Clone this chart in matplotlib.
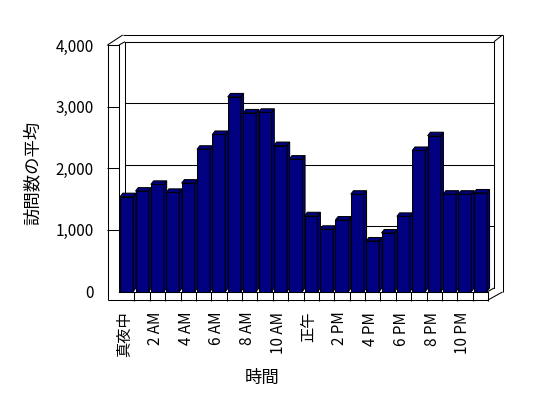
import matplotlib
matplotlib.use('Agg')
import matplotlib.pyplot as plt
from matplotlib.patches import Polygon
from matplotlib.transforms import offset_copy, ScaledTranslation

plt.rcParams['font.family'] = ['Noto Sans CJK JP', 'DejaVu Sans']

# data
hours = ['真夜中', '1 AM', '2 AM', '3 AM', '4 AM', '5 AM', '6 AM', '7 AM',
         '8 AM', '9 AM', '10 AM', '11 AM', '正午', '1 PM', '2 PM', '3 PM',
         '4 PM', '5 PM', '6 PM', '7 PM', '8 PM', '9 PM', '10 PM', '11 PM']
visits = [1540, 1630, 1740, 1610, 1760, 2310, 2550, 3160, 2900, 2910, 2370, 2150,
          1230, 1010, 1160, 1580, 820, 950, 1220, 2290, 2530, 1580, 1580, 1600]
y_ticks = [0, 1000, 2000, 3000, 4000]
y_tick_labels = ['0', '1,000', '2,000', '3,000', '4,000']

navy = '#000080'
W, H = 548, 398
fig = plt.figure(figsize=(W / 100, H / 100), dpi=100)

# pixel layer for the 3d box frame
fr = fig.add_axes([0, 0, 1, 1], zorder=0)
fr.set_xlim(0, W)
fr.set_ylim(H, 0)
fr.axis('off')

# front plane of the plot
x0, x1, y0, y1 = 119, 488, 291.5, 45.2
ax = fig.add_axes([x0 / W, 1 - y0 / H, (x1 - x0) / W, (y0 - y1) / H], zorder=1)
ax.patch.set_visible(False)
ax.set_xlim(-0.5, 23.5)
ax.set_ylim(0, 4000)

lw = 0.75
# frame lines (walls and floor)
frame = [
    ([107.5, 107.5], [45, 300]),
    ([107.5, 119], [45, 45]),
    ([107.5, 488], [300, 300]),
    ([107.5, 122.7], [45, 35]),
    ([119, 125], [45, 41.7]),
    ([122.7, 502.5], [35, 35]),
    ([494, 502.5], [41.7, 35]),
    ([502.5, 502.5], [35, 292]),
    ([488, 502.5], [300, 292]),
    ([488, 494], [291.5, 288]),
]
for xs, ys in frame:
    fr.plot(xs, ys, color='black', lw=lw, solid_capstyle='butt')

# back wall: gridlines and edges, shifted by the depth offset
back = offset_copy(ax.transData, fig=fig, x=6, y=3.5, units='dots')
for v in y_ticks[1:]:
    ax.plot([-0.5, 23.5], [v, v], color='black', lw=lw, transform=back,
            clip_on=False, zorder=1)
for xe in [-0.5, 23.5]:
    ax.plot([xe, xe], [0, 4000], color='black', lw=lw, transform=back,
            clip_on=False, zorder=1)

# bars with side and top faces
bw = 0.85
dx = 2.7 / ((x1 - x0) / 24)
dy = 3.5 / (y0 - y1) * 4000
for i, v in enumerate(visits):
    z = 2 + i * 0.01
    l, r = i - bw / 2, i + bw / 2
    ax.bar(i, v, width=bw, color=navy, edgecolor='black', linewidth=lw, zorder=z)
    side = Polygon([(r, 0), (r + dx, dy), (r + dx, v + dy), (r, v)], closed=True,
                   facecolor=navy, edgecolor='black', linewidth=lw, zorder=z,
                   clip_on=False)
    top = Polygon([(l, v), (r, v), (r + dx, v + dy), (l + dx, v + dy)], closed=True,
                  facecolor=navy, edgecolor='black', linewidth=lw, zorder=z,
                  clip_on=False)
    ax.add_patch(side)
    ax.add_patch(top)

for s in ['top', 'right']:
    ax.spines[s].set_visible(False)
for s in ['left', 'bottom']:
    ax.spines[s].set_linewidth(lw)
    ax.spines[s].set_zorder(5)

ax.set_yticks(y_ticks)
ax.set_yticklabels(y_tick_labels, fontsize=11)
ax.tick_params(axis='y', direction='out', length=8.3, width=lw, pad=10)
ax.yaxis.get_major_ticks()[0].tick1line.set_visible(False)

ax.set_xticks(range(0, 24, 2))
ax.set_xticklabels(hours[::2], rotation=90, fontsize=11, va='top')
ax.set_xticks([i + 0.5 for i in range(24)], minor=True)
ax.tick_params(axis='x', which='major', length=0, pad=14.5)
ax.tick_params(axis='x', which='minor', direction='out', length=6.3, width=lw)
shift = ScaledTranslation(-2 / 100, 0, fig.dpi_scale_trans)
for lab in ax.get_xticklabels():
    lab.set_transform(lab.get_transform() + shift)

ax.set_ylabel('訪問数の平均', fontsize=12.5, va='center')
ax.yaxis.set_label_coords((33 - x0) / (x1 - x0), (y0 - 173) / (y0 - y1))
ax.set_xlabel('時間', fontsize=12.5, va='center')
ax.xaxis.set_label_coords((262 - x0) / (x1 - x0), (y0 - 378) / (y0 - y1))

fig.savefig('out.png', dpi=100)
